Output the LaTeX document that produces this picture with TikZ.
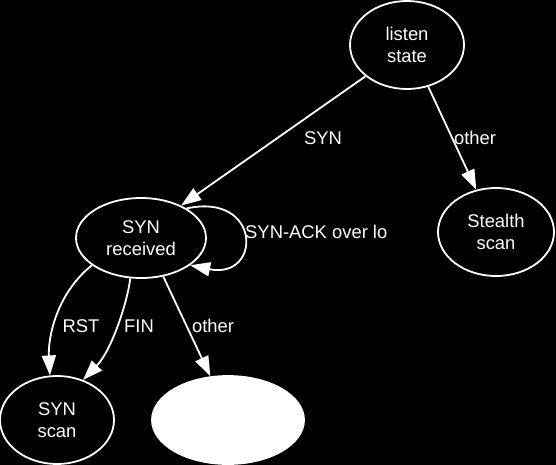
\documentclass[tikz,border=0pt]{standalone}
\usepackage{fontspec}
\setmainfont{Liberation Sans}
\usetikzlibrary{shapes.geometric,arrows.meta}
\begin{document}
\begin{tikzpicture}[x=1pt,y=-1pt,
  state/.style={ellipse,draw=white,line width=1.8pt,fill=black,inner sep=0pt,text=white,align=center,font=\fontsize{18.4}{22}\selectfont},
  lbl/.style={text=white,inner sep=0pt,font=\fontsize{18.4}{22}\selectfont},
  edge/.style={draw=white,line width=1.8pt,-{Triangle[length=20pt,width=14pt,fill=white]}}]
\fill[black] (0,0) rectangle (556,465);
\useasboundingbox (0,0) rectangle (556,465);
\node[state,minimum width=114pt,minimum height=88pt] (listen) at (407,45) {listen\\state};
\node[state,minimum width=116pt,minimum height=88pt] (stealth) at (496,232) {Stealth\\scan};
\node[state,minimum width=130pt,minimum height=80pt] (synrec) at (141,238) {SYN\\received};
\node[state,minimum width=114pt,minimum height=88pt] (synscan) at (57,420) {SYN\\scan};
\node[state,fill=white,minimum width=152pt,minimum height=88pt] (blank) at (228,420) {};
\draw[edge] (listen.217) -- (synrec.39);
\draw[edge] (listen.-63.4) -- (stealth.115.5);
\draw[edge] (synrec.33) .. controls (262,192) and (262,280) .. (synrec.-29);
\draw[edge] (synrec.209.4) .. controls (55,295) and (48,340) .. (synscan.99);
\draw[edge] (synrec.-105) .. controls (128,300) and (112,350) .. (synscan.57);
\draw[edge] (synrec.-60.4) -- (blank.112.7);
\node[lbl] (lsyn) at (323,138) {SYN};
\node[lbl] (lother1) at (475,138) {other};
\node[lbl,anchor=west] (lack) at (245,232) {SYN-ACK over lo};
\node[lbl] (lrst) at (81,326) {RST};
\node[lbl] (lfin) at (139,326) {FIN};
\node[lbl] (lother2) at (213,326) {other};
\end{tikzpicture}
\end{document}
